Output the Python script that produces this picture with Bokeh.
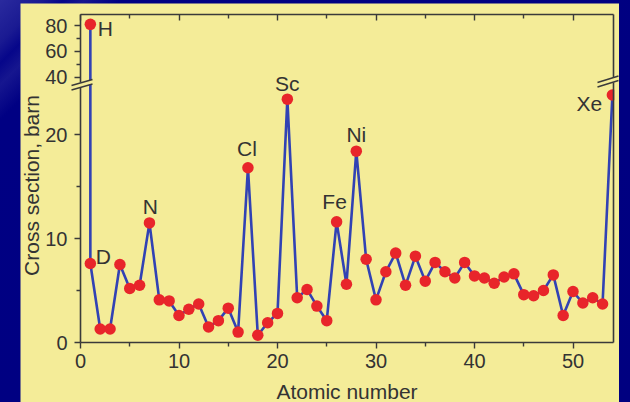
import math
from bokeh.plotting import figure
from bokeh.models import (Range1d, LinearAxis, FixedTicker, Label, ColumnDataSource,
                          CustomLabelingPolicy)
from bokeh.layouts import column
from bokeh.embed import file_html
from bokeh.resources import INLINE
from bokeh.core.properties import value

# ---------------- data ----------------
# lower series: atomic number (Z=1 is deuterium) and cross section, barn
atomic_number = list(range(1, 55))
cross_section = [7.6, 1.3, 1.3, 7.5, 5.2, 5.5, 11.5, 4.1, 4.0, 2.6,
                 3.2, 3.7, 1.5, 2.1, 3.3, 1.0, 16.8, 0.7, 1.9, 2.8,
                 23.4, 4.3, 5.1, 3.5, 2.1, 11.6, 5.6, 18.4, 8.0, 4.1,
                 6.8, 8.6, 5.5, 8.3, 5.9, 7.7, 6.8, 6.2, 7.7, 6.4,
                 6.2, 5.7, 6.3, 6.6, 4.6, 4.5, 5.0, 6.5, 2.6, 4.9,
                 3.8, 4.3, 3.7, 23.8]
# hydrogen, shown on the upper (compressed) part of the broken axis
h_z = [1]
h_sigma = [81.0]

label_names = ["D", "N", "Cl", "Sc", "Fe", "Ni", "Xe"]
label_z = [1, 7, 17, 21, 26, 28, 54]

x_ticks = [0, 10, 20, 30, 40, 50]
x_minor = [5, 15, 25, 35, 45]
y_ticks_low = [0, 10, 20]
y_minor_low = [5, 15]
y_ticks_high = [40, 60, 80]
y_minor_high = [50, 70]

x_title = "Atomic number"
y_title = "Cross section, barn"

# ---------------- styles ----------------
YELLOW = "#f4ec98"
AXIS = "#3a3a3a"
TXT = "#333333"
LINE = "#3142b4"
DOT = "#e8252a"
FONT = "Liberation Sans"

label_dx = [13, 1, -1, 0, -2, 0, -23]
label_dy = [-7, -16, -19, -16, -20, -17, 9]

# ---------------- page geometry (pixels in the page) ----------------
X_PAGE0, X_SCALE = 80.0, 9.85      # x = 0 position and px per unit
Y_PAGE0, Y_SCALE = 342.0, 10.4     # lower part: y = 0 position and px per barn
T_PAGE40, T_SCALE = 76.7, 1.29     # upper part: 40 barn position and px per barn
PANEL = (20, 3, 619, 402)          # yellow panel: left, top, right, bottom
FRAME_R, FRAME_T = 613.0, 14.0     # plot box right / top


def page_x(px):
    return (px - X_PAGE0) / X_SCALE


def page_y(py):
    return (Y_PAGE0 - py) / Y_SCALE


def page_t(py):
    return 40 + (T_PAGE40 - py) / T_SCALE


pl, pt, pr, pb = PANEL
p = figure(width=pr - pl, height=pb - pt, output_backend="svg", toolbar_location=None,
           x_range=Range1d(page_x(pl), page_x(pr)), y_range=Range1d(page_y(pb), page_y(pt)),
           x_axis_location=None, y_axis_location=None, min_border=0,
           background_fill_color=YELLOW, border_fill_color=YELLOW, outline_line_color=None)
p.extra_y_ranges = {"top": Range1d(page_t(pb), page_t(pt))}
p.xgrid.visible = False
p.ygrid.visible = False
p.margin = (pt, 630 - pr, 0, pl)

X_END = page_x(FRAME_R)
Y_TOP = page_y(FRAME_T)
T_TOP = page_t(FRAME_T)

# break geometry: two parallel diagonal strokes (page pixels)
LEFT_BREAK = (71, 92, 85, 79)
RIGHT_BREAK = (597, 618, 82, 75.5)
GAP = 4.5


def stroke_y(brk, px, d):
    xa, xb, ya, yb = brk
    return ya + d + (yb - ya) * (px - xa) / (xb - xa)


def make_axis(ticks=(), minor=(), labels=True, **kw):
    ax = LinearAxis(ticker=FixedTicker(ticks=list(ticks), minor_ticks=list(minor)), **kw)
    ax.axis_line_color = AXIS
    ax.axis_line_width = 1.6
    ax.major_tick_line_color = AXIS
    ax.minor_tick_line_color = AXIS
    ax.major_tick_line_width = 1.4
    ax.minor_tick_line_width = 1.4
    ax.major_label_text_font = FONT
    ax.major_label_text_font_size = "20px"
    ax.major_label_text_color = TXT
    if not labels:
        ax.major_label_policy = CustomLabelingPolicy(code="return new Set()")
        ax.major_label_text_font_size = "0px"
        ax.major_label_standoff = 0
    return ax


# bottom axis
xb = make_axis(x_ticks, x_minor, fixed_location=0, bounds=(0, X_END))
xb.major_tick_in, xb.major_tick_out = 0, 6
xb.minor_tick_in, xb.minor_tick_out = 0, 4
xb.major_label_standoff = 5
p.add_layout(xb, "below")

# top axis: ticks inside, no labels
xt = make_axis(x_ticks, x_minor, labels=False, fixed_location=Y_TOP, bounds=(0, X_END))
xt.major_tick_in, xt.major_tick_out = 6, 0
xt.minor_tick_in, xt.minor_tick_out = 4, 0
p.add_layout(xt, "above")

# left axis, lower part
yl_lo = make_axis(y_ticks_low, y_minor_low, fixed_location=0,
                  bounds=(0, page_y(stroke_y(LEFT_BREAK, X_PAGE0, GAP))))
yl_lo.major_tick_in, yl_lo.major_tick_out = 0, 6
yl_lo.minor_tick_in, yl_lo.minor_tick_out = 0, 4
yl_lo.major_label_standoff = 7
p.add_layout(yl_lo, "left")

# left axis, upper part
yl_hi = make_axis(y_ticks_high, y_minor_high, fixed_location=0, y_range_name="top",
                  bounds=(page_t(stroke_y(LEFT_BREAK, X_PAGE0, 0)), T_TOP))
yl_hi.major_tick_in, yl_hi.major_tick_out = 0, 6
yl_hi.minor_tick_in, yl_hi.minor_tick_out = 0, 4
yl_hi.major_label_standoff = 7
p.add_layout(yl_hi, "left")

# right frame line, in two parts
yr_lo = make_axis(labels=False, fixed_location=X_END,
                  bounds=(0, page_y(stroke_y(RIGHT_BREAK, FRAME_R, GAP))))
yr_hi = make_axis(labels=False, fixed_location=X_END,
                  bounds=(page_y(stroke_y(RIGHT_BREAK, FRAME_R, 0)), Y_TOP))
for ax in (yr_lo, yr_hi):
    ax.major_tick_out = ax.minor_tick_out = 0
    p.add_layout(ax, "right")

# ---------------- data marks ----------------
src = ColumnDataSource(dict(x=atomic_number, y=cross_section))
p.line("x", "y", source=src, line_color=LINE, line_width=2.6)

# H -> D vertical connection, interrupted at the axis break
hx_page = X_PAGE0 + h_z[0] * X_SCALE
p.segment(x0=h_z, y0=[page_y(stroke_y(LEFT_BREAK, hx_page, GAP))], x1=h_z, y1=[cross_section[0]],
          line_color=LINE, line_width=2.6)
p.segment(x0=h_z, y0=h_sigma, x1=h_z, y1=[page_t(stroke_y(LEFT_BREAK, hx_page, 0))],
          line_color=LINE, line_width=2.6, y_range_name="top")

p.scatter("x", "y", source=src, size=11.5, fill_color=DOT, line_color=None)
p.scatter(x=h_z, y=h_sigma, size=11.5, fill_color=DOT, line_color=None, y_range_name="top")

# the plot box clips marks at its right edge
p.quad(left=[page_x(FRAME_R + 0.8)], right=[page_x(pr)], bottom=[page_y(110)], top=[page_y(86)],
       fill_color=YELLOW, line_color=None)

lab_y = [cross_section[z - 1] for z in label_z]
p.text(x=label_z, y=lab_y, text=label_names, x_offset=label_dx, y_offset=label_dy,
       text_align="center", text_baseline="middle", text_font=value(FONT),
       text_font_size="21px", text_color=TXT)
p.text(x=h_z, y=h_sigma, text=["H"], x_offset=15, y_offset=4, text_align="center",
       text_baseline="middle", text_font=value(FONT), text_font_size="21px",
       text_color=TXT, y_range_name="top")

# break strokes
for brk in (LEFT_BREAK, RIGHT_BREAK):
    xa, xb_, ya, yb = brk
    p.segment(x0=[page_x(xa)] * 2, y0=[page_y(ya), page_y(ya + GAP)],
              x1=[page_x(xb_)] * 2, y1=[page_y(yb), page_y(yb + GAP)],
              line_color=AXIS, line_width=1.5)

# axis titles
p.add_layout(Label(x=page_x(346.5), y=page_y(391), text=x_title, text_align="center",
                   text_baseline="alphabetic", text_font=FONT, text_font_size="21px",
                   text_color=TXT))
p.add_layout(Label(x=page_x(31), y=page_y(185), text=y_title, angle=math.pi / 2,
                   text_align="center", text_baseline="alphabetic", text_font=FONT,
                   text_font_size="21px", text_color=TXT))

layout = column(p, width=630, height=402,
                styles={"background": "linear-gradient(135deg, #2a2a9e 0px, #1a1a92 30px, #06068a 45px, #16168f 60px, #000083 85px, #000080 100%)"})

open("out.html", "w").write(file_html(layout, INLINE))
